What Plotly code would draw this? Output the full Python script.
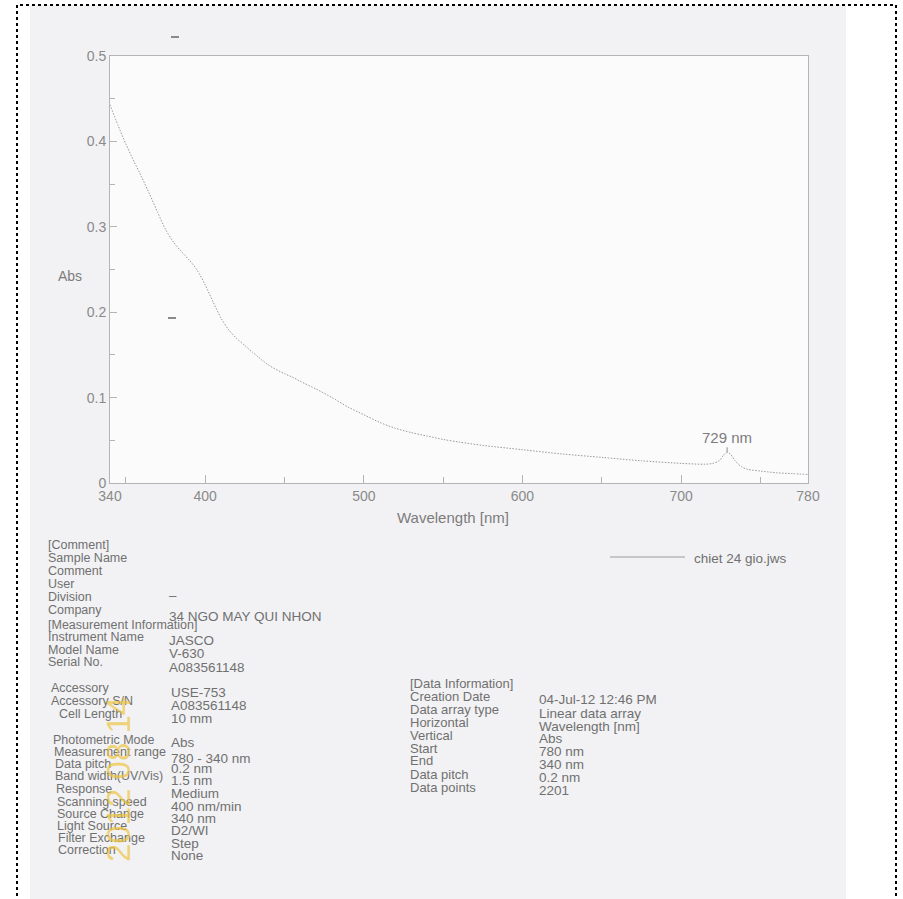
import plotly.graph_objects as go

# ---- spectrum data (JASCO V-630, chiet 24 gio) ----
wavelength_nm = [340, 345, 350, 355, 360, 365, 370, 375, 380, 385, 390, 395,
                 400, 405, 410, 415, 420, 425, 430, 440, 450, 455, 460, 470,
                 480, 490, 500, 510, 520, 530, 540, 550, 560, 575, 600, 625,
                 650, 675, 700, 715, 720, 724, 727, 729, 731, 734, 738, 742,
                 750, 760, 770, 780]
absorbance = [0.443, 0.419, 0.397, 0.377, 0.358, 0.338, 0.317, 0.297, 0.282,
              0.271, 0.261, 0.249, 0.232, 0.212, 0.193, 0.179, 0.169, 0.161,
              0.153, 0.138, 0.128, 0.124, 0.119, 0.110, 0.100, 0.089, 0.080,
              0.071, 0.064, 0.059, 0.055, 0.051, 0.048, 0.044, 0.039, 0.034,
              0.030, 0.026, 0.023, 0.022, 0.023, 0.026, 0.033, 0.036, 0.034,
              0.026, 0.019, 0.016, 0.014, 0.012, 0.011, 0.010]

x_ticks = [340, 400, 500, 600, 700, 780]
y_ticks = [0, 0.1, 0.2, 0.3, 0.4, 0.5]
peak_nm = 729
peak_label = "729 nm"
trace_name = "chiet 24 gio.jws"

# ---- report text ----
comment_labels = ["[Comment]", "Sample Name", "Comment", "User", "Division", "Company",
                  "[Measurement Information]", "Instrument Name", "Model Name", "Serial No."]
comment_label_y = [545, 558, 571, 584, 597, 610, 625, 637, 650, 662]
comment_values = ["–", "34 NGO MAY QUI NHON", "JASCO", "V-630", "A083561148"]
comment_value_y = [595, 616, 640, 653, 667]

meas_labels = ["Accessory", "Accessory S/N", "Cell Length", "Photometric Mode",
               "Measurement range", "Data pitch", "Band width(UV/Vis)", "Response",
               "Scanning speed", "Source Change", "Light Source", "Filter Exchange",
               "Correction"]
meas_label_x = [50, 50, 58, 52, 53, 54, 54, 55, 56, 56, 56, 57, 57]
meas_label_y = [688, 701, 714, 740, 752, 764, 776, 789, 802, 814, 826, 838, 850]
meas_values = ["USE-753", "A083561148", "10 mm", "Abs", "780 - 340 nm", "0.2 nm",
               "1.5 nm", "Medium", "400 nm/min", "340 nm", "D2/WI", "Step", "None"]
meas_value_y = [692, 705, 718, 742, 758, 768, 780, 793, 806, 818, 830, 843, 855]

data_labels = ["[Data Information]", "Creation Date", "Data array type", "Horizontal",
               "Vertical", "Start", "End", "Data pitch", "Data points"]
data_label_y = [683, 696, 709, 722, 735, 748, 761, 774, 787]
data_values = ["04-Jul-12 12:46 PM", "Linear data array", "Wavelength [nm]", "Abs",
               "780 nm", "340 nm", "0.2 nm", "2201"]
data_value_y = [699, 713, 726, 738, 751, 764, 777, 790]

date_stamp = "2012 08 14"

# ---- canvas geometry ----
W, H = 903, 899
ML, MR, MT, MB = 110, 95, 56, 416
PW = W - ML - MR
PH = H - MT - MB


def fx(x):
    return (x - ML) / PW


def fy(y):
    return (H - MB - y) / PH


FONT = "Liberation Sans, Arial, sans-serif"
TXT = "#707070"
AXC = "#b4b4b4"

fig = go.Figure()
fig.add_trace(go.Scatter(
    x=wavelength_nm, y=absorbance, mode="lines", name=trace_name,
    line=dict(color="#999999", width=1, dash="1.5px,1.5px", shape="spline", smoothing=0.8),
    showlegend=False, hoverinfo="skip",
))

annotations = []


def text(x, y, s, size=13, color=TXT, **kw):
    annotations.append(dict(
        x=fx(x), y=fy(y), xref="paper", yref="paper", text=s, showarrow=False,
        xanchor=kw.pop("xanchor", "left"), yanchor="middle", borderpad=0,
        font=dict(family=FONT, size=size, color=color), **kw))


for s, y in zip(comment_labels, comment_label_y):
    text(47, y, s, 12.5)
for s, y in zip(comment_values, comment_value_y):
    text(168, y, s, 13.5)
for s, x, y in zip(meas_labels, meas_label_x, meas_label_y):
    text(x, y, s, 12.5)
for s, y in zip(meas_values, meas_value_y):
    text(170, y, s, 13.5)
for s, y in zip(data_labels, data_label_y):
    text(409, y, s, 13)
for s, y in zip(data_values, data_value_y):
    text(538, y, s, 13.5)

# axis titles
text(453, 517, "Wavelength [nm]", 15, "#7c7c7c", xanchor="center")
text(70, 276, "Abs", 14, "#7c7c7c", xanchor="center")

# legend entry
text(693, 558, trace_name, 13.5)

# camera date stamp
annotations.append(dict(
    x=fx(118), y=fy(780), xref="paper", yref="paper", text=date_stamp,
    showarrow=False, textangle=-90, xanchor="center", yanchor="middle",
    font=dict(family=FONT, size=33, color="rgba(238,196,60,0.7)")))

# peak marker
pk = absorbance[wavelength_nm.index(peak_nm)]
annotations.append(dict(
    x=peak_nm, y=pk, xref="x", yref="y", text=peak_label, showarrow=True,
    arrowhead=0, arrowwidth=1, arrowcolor="#8c8c8c", ax=0, ay=-15,
    font=dict(family=FONT, size=15, color="#7c7c7c")))

shapes = [
    # white margins around the sheet
    dict(type="rect", xref="paper", yref="paper", x0=fx(0), x1=fx(30), y0=fy(H + 5), y1=fy(-5),
         fillcolor="white", line=dict(width=0), layer="below"),
    dict(type="rect", xref="paper", yref="paper", x0=fx(846), x1=fx(W + 5), y0=fy(H + 5), y1=fy(-5),
         fillcolor="white", line=dict(width=0), layer="below"),
    dict(type="rect", xref="paper", yref="paper", x0=fx(0), x1=fx(W + 5), y0=fy(5), y1=fy(-5),
         fillcolor="white", line=dict(width=0), layer="below"),
    # legend line
    dict(type="line", xref="paper", yref="paper", x0=fx(610), x1=fx(685), y0=fy(557), y1=fy(557),
         line=dict(color="#9a9a9a", width=1)),
    # stray marks on the sheet
    dict(type="line", xref="paper", yref="paper", x0=fx(171), x1=fx(179), y0=fy(37), y1=fy(37),
         line=dict(color="#8a8a8a", width=2)),
    dict(type="line", xref="paper", yref="paper", x0=fx(168), x1=fx(176), y0=fy(318), y1=fy(318),
         line=dict(color="#8a8a8a", width=2)),
    # dotted frame
    dict(type="rect", xref="paper", yref="paper", x0=fx(17), x1=fx(896), y0=fy(905), y1=fy(5),
         line=dict(color="black", width=2, dash="dot"), fillcolor="rgba(0,0,0,0)"),
]

axis_common = dict(
    showline=True, linecolor=AXC, linewidth=1, mirror=True, showgrid=False, zeroline=False,
    ticks="inside", tickcolor=AXC, tickwidth=1,
    tickfont=dict(family=FONT, size=14, color="#8a8a8a"),
)

fig.update_layout(
    width=W, height=H, margin=dict(l=ML, r=MR, t=MT, b=MB),
    paper_bgcolor="#f2f2f4", plot_bgcolor="#fbfbfc",
    xaxis=dict(range=[340, 780], tickvals=x_ticks, ticklen=8,
               minor=dict(tickvals=[350, 450, 550, 650, 750], ticks="inside", ticklen=6,
                          tickcolor=AXC),
               **axis_common),
    yaxis=dict(range=[0, 0.5], tickvals=y_ticks, ticktext=["0", "0.1", "0.2", "0.3", "0.4", "0.5"],
               ticklen=7,
               minor=dict(tickvals=[0.05, 0.15, 0.25, 0.35, 0.45], ticks="inside", ticklen=5,
                          tickcolor=AXC),
               **axis_common),
    annotations=annotations, shapes=shapes, showlegend=False,
)

fig.write_html("out.html")
